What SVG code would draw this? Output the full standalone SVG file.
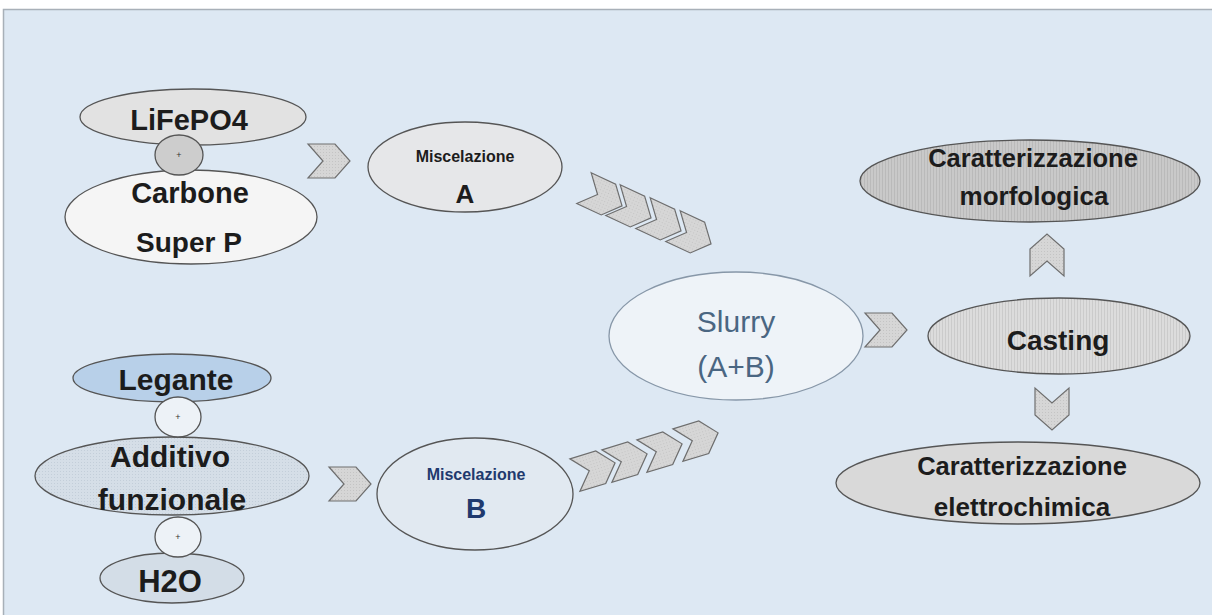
<svg xmlns="http://www.w3.org/2000/svg" width="1212" height="615" viewBox="0 0 1212 615">
<style>
.node{stroke:#555;stroke-width:1.3}
.t{font-family:"Liberation Sans",Arial,sans-serif;font-weight:bold;fill:#1c1c1c;text-anchor:middle}
.s{font-family:"Liberation Sans",Arial,sans-serif;fill:#4a6682;text-anchor:middle}
.chev{fill:url(#dots);stroke:#6e6e6e;stroke-width:1.2}
.plus{font-family:"Liberation Sans",Arial,sans-serif;font-size:9px;fill:#333;text-anchor:middle}
</style>
<defs>
<pattern id="dots" width="3" height="3" patternUnits="userSpaceOnUse">
<rect width="3" height="3" fill="#d6d6d6"/><rect width="1" height="1" fill="#c4c4c4"/>
</pattern>
<pattern id="vstripe" width="3" height="3" patternUnits="userSpaceOnUse">
<rect width="3" height="3" fill="#dcdcdc"/><rect width="1" height="3" fill="#cbcbcb"/>
</pattern>
<pattern id="vstripe2" width="3" height="3" patternUnits="userSpaceOnUse">
<rect width="3" height="3" fill="#c9c9c9"/><rect width="1" height="3" fill="#bababa"/>
</pattern>
<pattern id="bdots" width="3" height="3" patternUnits="userSpaceOnUse">
<rect width="3" height="3" fill="#d5dee7"/><rect width="1" height="1" fill="#c3ced9"/>
</pattern>
<path id="chv" d="M-21,-17 L6,-17 L21,0 L6,17 L-21,17 L-6,0 Z"/>
</defs>
<rect x="0" y="0" width="1212" height="615" fill="#ffffff"/>
<rect x="3.5" y="9.5" width="1210" height="610" fill="#dde8f3" stroke="#a8b0b8" stroke-width="1.5"/>

<g id="connectors">
<use href="#chv" class="chev" transform="translate(329,161)"/>
<use href="#chv" class="chev" transform="translate(603,197) rotate(25)"/>
<use href="#chv" class="chev" transform="translate(632,209) rotate(25)"/>
<use href="#chv" class="chev" transform="translate(662,222) rotate(25)"/>
<use href="#chv" class="chev" transform="translate(692,235) rotate(25)"/>
<use href="#chv" class="chev" transform="translate(350,484)"/>
<use href="#chv" class="chev" transform="translate(595,469) rotate(-17)"/>
<use href="#chv" class="chev" transform="translate(627,460) rotate(-17)"/>
<use href="#chv" class="chev" transform="translate(662,450) rotate(-17)"/>
<use href="#chv" class="chev" transform="translate(698,439) rotate(-17)"/>
<use href="#chv" class="chev" transform="translate(886,330)"/>
<use href="#chv" class="chev" transform="translate(1047,255) rotate(-90)"/>
<use href="#chv" class="chev" transform="translate(1052,409) rotate(90)"/>
</g>

<g id="lifepo4">
<ellipse class="node" cx="193" cy="117" rx="113" ry="28" fill="#e2e2e2"/>
<text class="t" x="189" y="130" font-size="29">LiFePO4</text>
</g>
<g id="carbone">
<ellipse class="node" cx="191" cy="217" rx="126" ry="47" fill="#f5f5f5"/>
<text class="t" x="190" y="203" font-size="29">Carbone</text>
<text class="t" x="189" y="252" font-size="28">Super P</text>
</g>
<g id="plus1">
<ellipse class="node" cx="179" cy="155" rx="24" ry="20" fill="#cdcdcd"/>
<text class="plus" x="179" y="158">+</text>
</g>

<g id="miscA">
<ellipse class="node" cx="465" cy="167" rx="97" ry="45" fill="#e6e7e9"/>
<text class="t" x="465" y="162" font-size="16" fill="#333">Miscelazione</text>
<text class="t" x="465" y="203" font-size="26">A</text>
</g>

<g id="legante">
<ellipse class="node" cx="172" cy="378" rx="99" ry="24" fill="#b8d0e9"/>
<text class="t" x="176" y="390" font-size="30">Legante</text>
</g>
<g id="additivo">
<ellipse class="node" cx="172" cy="476" rx="137" ry="39" fill="url(#bdots)" stroke="#7f8c99"/>
<text class="t" x="170" y="467" font-size="30">Additivo</text>
<text class="t" x="172" y="510" font-size="30">funzionale</text>
</g>
<g id="h2o">
<ellipse class="node" cx="172" cy="578" rx="72" ry="25" fill="#d3dde7"/>
<text class="t" x="170" y="592" font-size="31">H2O</text>
</g>
<g id="plus2">
<ellipse class="node" cx="178" cy="417" rx="23" ry="20" fill="#edf2f7"/>
<text class="plus" x="178" y="420">+</text>
</g>
<g id="plus3">
<ellipse class="node" cx="178" cy="537" rx="23" ry="20" fill="#edf2f7"/>
<text class="plus" x="178" y="540">+</text>
</g>

<g id="miscB">
<ellipse class="node" cx="475" cy="494" rx="98" ry="56" fill="#e1e9f1"/>
<text class="t" x="476" y="480" font-size="16" style="fill:#1f3a6e">Miscelazione</text>
<text class="t" x="476" y="518" font-size="28" style="fill:#1f3a6e">B</text>
</g>

<g id="slurry">
<ellipse cx="736" cy="336" rx="127" ry="64" fill="#eef3f8" stroke="#8797a8" stroke-width="1.3"/>
<text class="s" x="736" y="332" font-size="30">Slurry</text>
<text class="s" x="736" y="377" font-size="30">(A+B)</text>
</g>

<g id="casting">
<ellipse class="node" cx="1059" cy="336" rx="131" ry="38" fill="url(#vstripe)"/>
<text class="t" x="1058" y="350" font-size="28">Casting</text>
</g>

<g id="morfologica">
<ellipse class="node" cx="1030" cy="181" rx="170" ry="41" fill="url(#vstripe2)"/>
<text class="t" x="1033" y="167" font-size="25.5">Caratterizzazione</text>
<text class="t" x="1034" y="205" font-size="26">morfologica</text>
</g>

<g id="elettrochimica">
<ellipse class="node" cx="1018" cy="483" rx="182" ry="41" fill="#d9d9d9"/>
<text class="t" x="1022" y="475" font-size="25.5">Caratterizzazione</text>
<text class="t" x="1022" y="516" font-size="26">elettrochimica</text>
</g>
</svg>
